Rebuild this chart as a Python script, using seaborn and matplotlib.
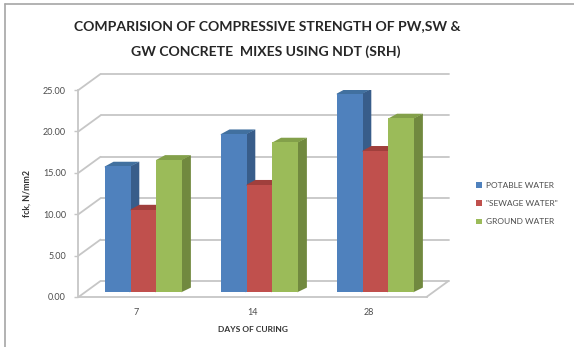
import matplotlib
matplotlib.use("Agg")
import matplotlib.pyplot as plt
import pandas as pd
import seaborn as sns
from matplotlib.lines import Line2D
from matplotlib.patches import Polygon, Patch
from matplotlib.transforms import ScaledTranslation

# Compressive strength (fck, N/mm2) by curing age
days = ["7", "14", "28"]
potable = [15.2, 19.1, 24.0]
sewage = [10.0, 13.0, 17.1]
ground = [16.0, 18.1, 21.0]
series_names = ["POTABLE WATER", '"SEWAGE WATER"', "GROUND WATER"]
y_ticks = [0, 5, 10, 15, 20, 25]
y_tick_labels = ["0.00", "5.00", "10.00", "15.00", "20.00", "25.00"]

front_colors = ["#4F81BD", "#C0504D", "#9BBB59"]
side_colors = ["#385D8A", "#8C3836", "#71893F"]
top_colors = ["#41709F", "#A03F3C", "#83A04A"]

df = pd.DataFrame({
    "day": days * 3,
    "value": potable + sewage + ground,
    "series": [n for n in series_names for _ in days],
})

sns.set_theme(style="white")
plt.rcParams["font.family"] = ["Lato", "DejaVu Sans"]

W, H, DPI = 574, 347, 100
fig = plt.figure(figsize=(W / DPI, H / DPI), dpi=DPI)
ax = fig.add_axes([78.5 / W, 50 / H, 348 / W, 207 / H])
ax.set_facecolor("none")

sns.barplot(data=df, x="day", y="value", hue="series", palette=front_colors,
            width=0.667, gap=0, saturation=1, linewidth=0, legend=False, ax=ax)
ax.set_xlim(-0.5, 2.5)
ax.set_ylim(0, 25)

# pixel scale of the data axes
px_x = (ax.transData.transform((1, 0))[0] - ax.transData.transform((0, 0))[0])
px_y = (ax.transData.transform((0, 1))[1] - ax.transData.transform((0, 0))[1])

def shifted(dx_px, dy_px):
    return ax.transData + ScaledTranslation(dx_px / DPI, dy_px / DPI, fig.dpi_scale_trans)

grid_col = "#C6C6C6"
wall = shifted(22, 16)

# back wall gridlines and left-wall diagonals
for v in y_ticks:
    ax.plot([-0.5, 2.5], [v, v], color=grid_col, lw=1.3, transform=wall,
            clip_on=False, zorder=0.5)
    ax.plot([-0.5, -0.5 + 22 / px_x], [v, v + 16 / px_y], color=grid_col, lw=1.3,
            clip_on=False, zorder=0.5)
# right edge of the floor
ax.plot([2.5, 2.5 + 22 / px_x], [0, 16 / px_y], color=grid_col, lw=1.3,
        clip_on=False, zorder=0.5)

# bars sit in the middle of the floor depth; add side and top faces
bar_shift = shifted(7, 4.7)
dxd, dyd = 8.7 / px_x, 4.7 / px_y
ex, ey = 1.0 / px_x, 1.0 / px_y  # faces tuck under the front face to avoid seams
patches = sorted(ax.patches, key=lambda p: p.get_x())
for k, p in enumerate(patches):
    x0, w, h = p.get_x(), p.get_width(), p.get_height()
    fc = matplotlib.colors.to_hex(p.get_facecolor())
    ci = [i for i, c in enumerate(front_colors) if c.lower() == fc.lower()][0]
    z = 2 + k * 0.01
    p.set_transform(bar_shift)
    p.set_zorder(z + 0.005)
    side = Polygon([(x0 + w - ex, 0), (x0 + w + dxd, dyd), (x0 + w + dxd, h + dyd),
                    (x0 + w - ex, h)],
                   closed=True, facecolor=side_colors[ci], edgecolor="none",
                   transform=bar_shift, zorder=z + 0.001)
    top = Polygon([(x0, h - ey), (x0, h), (x0 + dxd, h + dyd), (x0 + w + dxd, h + dyd),
                   (x0 + w, h), (x0 + w, h - ey)],
                  closed=True, facecolor=top_colors[ci], edgecolor="none",
                  transform=bar_shift, zorder=z + 0.002)
    ax.add_patch(side)
    ax.add_patch(top)

# axes styling
for s in ["top", "right"]:
    ax.spines[s].set_visible(False)
for s in ["left", "bottom"]:
    ax.spines[s].set_color(grid_col)
    ax.spines[s].set_linewidth(1.3)
ax.set_yticks(y_ticks)
ax.set_yticklabels(y_tick_labels)
ax.tick_params(axis="y", length=3, width=1, color=grid_col, pad=6,
               labelsize=6.5, labelcolor="#4d4d4d", left=True)
ax.tick_params(axis="x", length=0, pad=8, labelsize=6.5, labelcolor="#4d4d4d")
ax.set_xlabel("DAYS OF CURING", fontsize=6, fontweight="bold", color="#333333")
ax.xaxis.set_label_coords(0.5, -0.14)
ax.set_ylabel("fck, N/mm2", fontsize=6.3, fontweight="bold", color="#333333")
ax.yaxis.set_label_coords((32 - 78.5) / 348, 0.5)

# title
fig.text(267 / W, 1 - 26 / H, "COMPARISION OF COMPRESSIVE STRENGTH OF PW,SW &",
         ha="center", va="center", fontsize=10.1, fontweight="bold", color="#262626")
fig.text(266 / W, 1 - 52 / H, "GW CONCRETE  MIXES USING NDT (SRH)",
         ha="center", va="center", fontsize=10.1, fontweight="bold", color="#262626")

# legend
handles = [Patch(facecolor=c, edgecolor="none") for c in front_colors]
fig.legend(handles, series_names, loc="center left",
           bbox_to_anchor=(472 / W, 1 - 203.5 / H), frameon=False,
           fontsize=6, labelcolor="#4d4d4d", handlelength=0.65, handleheight=0.65,
           handletextpad=0.5, labelspacing=1.35, borderpad=0)

# chart frame
frame_col = "#A6A6A6"
fig.add_artist(Line2D([5 / W, 5 / W], [0, 1 - 4 / H], color=frame_col, lw=1.2,
                      transform=fig.transFigure))
fig.add_artist(Line2D([5 / W, 1], [1 - 4 / H, 1 - 4 / H], color=frame_col, lw=1.2,
                      transform=fig.transFigure))

fig.savefig("out.png", dpi=DPI, facecolor="white")
